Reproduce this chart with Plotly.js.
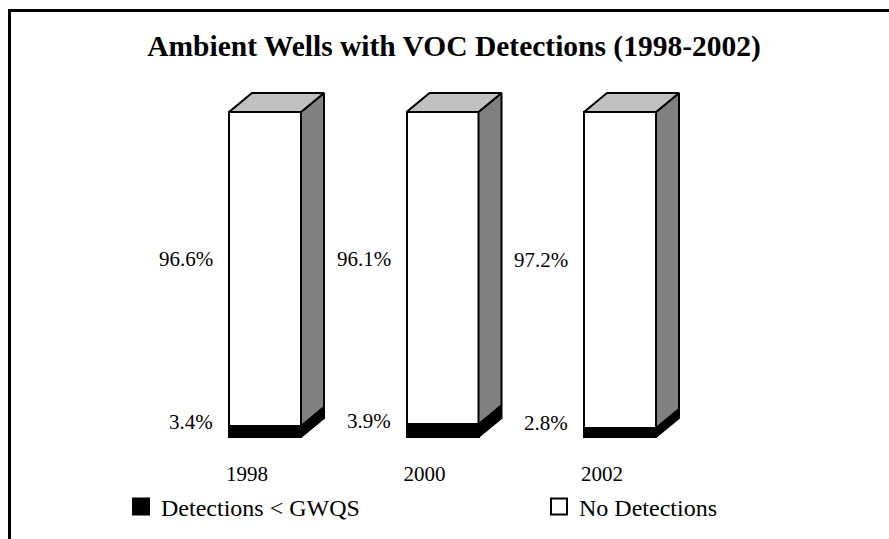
<!DOCTYPE html>
<html>
<head>
<meta charset="utf-8">
<script src="https://cdn.plot.ly/plotly-3.0.1.min.js"></script>
<style>html,body{margin:0;padding:0;background:#fff;}#chart{width:889px;height:539px;}</style>
</head>
<body>
<div id="chart"></div>
<script>
// ---- data ----
var categories = ['1998', '2000', '2002'];
var detections = [3.4, 3.9, 2.8];        // Detections < GWQS (%)
var noDetections = [96.6, 96.1, 97.2];   // No Detections (%)
var seriesNames = ['Detections < GWQS', 'No Detections'];

// ---- geometry (style) ----
var FONT = 'Liberation Serif';
var W = 889, H = 539;
var X0 = 265, Y0 = 437;          // pixel of first category centre / value 0
var pxX = 177.5, pxY = 3.25;     // pixels per category step / per percent
var xRange = [-X0 / pxX, (W - X0) / pxX];
var yRange = [-(H - Y0) / pxY, Y0 / pxY];
var barW = 72 / pxX;              // bar width in data units
var dX = 23 / pxX, dY = 19 / pxY; // 3D depth offset in data units

var xs = categories.map(function (c, i) { return i; });
var totals = xs.map(function (i) { return detections[i] + noDetections[i]; });

var traces = [];
// front faces (stacked bars)
traces.push({type: 'bar', x: xs, y: detections, width: barW, name: seriesNames[0],
  marker: {color: '#000000', line: {color: '#000000', width: 2}}, showlegend: false, hoverinfo: 'skip'});
traces.push({type: 'bar', x: xs, y: noDetections, width: barW, name: seriesNames[1],
  marker: {color: '#ffffff', line: {color: '#000000', width: 2}}, showlegend: false, hoverinfo: 'skip'});

function poly(px, py, fill) {
  traces.push({type: 'scatter', mode: 'lines', x: px.concat([px[0]]), y: py.concat([py[0]]),
    fill: 'toself', fillcolor: fill, line: {color: '#000000', width: 2},
    showlegend: false, hoverinfo: 'skip'});
}
xs.forEach(function (i) {
  var r = i + barW / 2, l = i - barW / 2;
  var b = detections[i], t = totals[i];
  poly([r, r + dX, r + dX, r], [0, dY, b + dY, b], '#000000');   // side, lower part
  poly([r, r + dX, r + dX, r], [b, b + dY, t + dY, t], '#808080'); // side, upper part
  poly([l, l + dX, r + dX, r], [t, t + dY, t + dY, t], '#c0c0c0'); // top face
});

// legend entries (one legend each, so they can sit far apart like the original)
traces.push({type: 'scatter', mode: 'markers', x: [null], y: [null], name: seriesNames[0], legend: 'legend',
  marker: {symbol: 'square', size: 18, color: '#000000', line: {color: '#000000', width: 2}}});
traces.push({type: 'scatter', mode: 'markers', x: [null], y: [null], name: seriesNames[1], legend: 'legend2',
  marker: {symbol: 'square', size: 18, color: '#ffffff', line: {color: '#000000', width: 2}}});

// data labels
var annotations = [];
xs.forEach(function (i) {
  var l = i - barW / 2;
  annotations.push({x: l, y: detections[i] / 2, xref: 'x', yref: 'y', text: detections[i].toFixed(1) + '%',
    showarrow: false, xanchor: 'right', yanchor: 'middle', xshift: -14, yshift: 9.5,
    font: {family: FONT, size: 21, color: '#000'}});
  annotations.push({x: l, y: detections[i] + noDetections[i] / 2, xref: 'x', yref: 'y', text: noDetections[i].toFixed(1) + '%',
    showarrow: false, xanchor: 'right', yanchor: 'middle', xshift: -14, yshift: 9.5,
    font: {family: FONT, size: 21, color: '#000'}});
});

function pX(p) { return p / W; }
function pY(p) { return 1 - p / H; }
var legendBase = {orientation: 'h', xanchor: 'left', y: pY(507), yanchor: 'middle', itemsizing: 'trace',
  bgcolor: 'rgba(0,0,0,0)', borderwidth: 0, font: {family: FONT, size: 24, color: '#000'}};

var layout = {
  width: W, height: H,
  margin: {l: 0, r: 0, t: 0, b: 0, pad: 0},
  paper_bgcolor: '#ffffff', plot_bgcolor: 'rgba(0,0,0,0)',
  barmode: 'stack',
  font: {family: FONT, color: '#000'},
  title: {text: '<b>Ambient Wells with VOC Detections (1998-2002)</b>',
    font: {family: FONT, size: 29.5, color: '#000'},
    x: 454 / W, xref: 'container', xanchor: 'center', y: 1 - 46 / H, yref: 'container', yanchor: 'middle'},
  xaxis: {range: xRange, showgrid: false, zeroline: false, showline: false,
    anchor: 'free', position: (H - Y0) / H,
    tickvals: xs, ticktext: categories, ticks: '', ticklabelshift: -18, ticklabelstandoff: 22,
    tickfont: {family: FONT, size: 21, color: '#000'}, fixedrange: true},
  yaxis: {range: yRange, showgrid: false, zeroline: false, showline: false, showticklabels: false, ticks: '', fixedrange: true},
  showlegend: true,
  legend: Object.assign({}, legendBase, {x: pX(121)}),
  legend2: Object.assign({}, legendBase, {x: pX(539)}),
  annotations: annotations,
  shapes: [{type: 'path', xref: 'paper', yref: 'paper',
    path: 'M' + pX(9.5) + ',' + pY(545) + ' L' + pX(9.5) + ',' + pY(10.5) + ' L' + pX(895) + ',' + pY(10.5),
    line: {color: '#000', width: 3}}]
};

Plotly.newPlot('chart', traces, layout, {displayModeBar: false, staticPlot: true});
</script>
</body>
</html>
